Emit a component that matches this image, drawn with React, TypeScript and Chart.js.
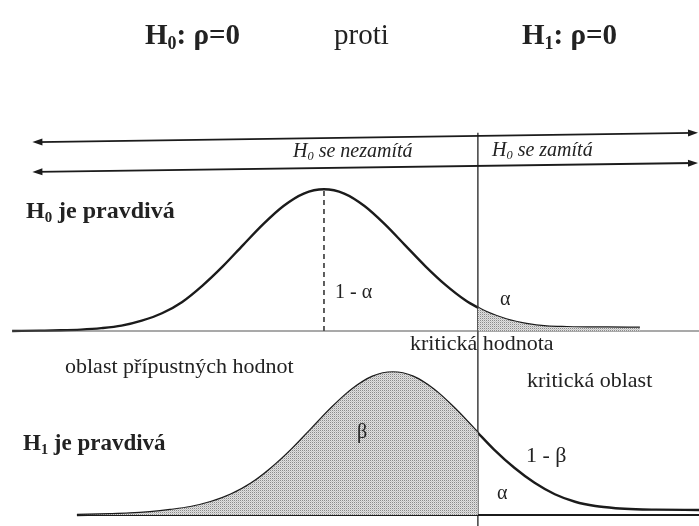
import React, { useEffect, useRef } from "react";
import { Chart, registerables } from "chart.js";

Chart.register(...registerables);

// Test statistic (in units of σ) and the densities
const h0X = [-3.85, -3.5, -3.25, -3, -2.75, -2.5, -2.25, -2, -1.75, -1.5, -1.25, -1, -0.75, -0.5, -0.25, 0, 0.25, 0.5, 0.75, 1, 1.25, 1.5, 1.75, 1.9, 2, 2.25, 2.5, 2.75, 3, 3.25, 3.5, 3.9];
const h0Density = [0, 0.001, 0.002, 0.004, 0.008, 0.015, 0.029, 0.05, 0.082, 0.128, 0.182, 0.242, 0.301, 0.352, 0.387, 0.399, 0.387, 0.352, 0.301, 0.242, 0.183, 0.13, 0.086, 0.066, 0.054, 0.033, 0.02, 0.013, 0.011, 0.01, 0.01, 0.009];

const h1X = [-3.05, -2.65, -2.4, -2.15, -1.9, -1.65, -1.4, -1.15, -0.9, -0.65, -0.4, -0.15, 0.1, 0.35, 0.6, 0.85, 1.1, 1.35, 1.6, 1.85, 1.9, 2.1, 2.35, 2.6, 2.85, 3.1, 3.35, 3.6, 3.85, 4.1, 4.63];
const h1Density = [0, 0.002, 0.004, 0.008, 0.014, 0.022, 0.036, 0.057, 0.088, 0.131, 0.183, 0.242, 0.301, 0.352, 0.387, 0.399, 0.387, 0.352, 0.301, 0.242, 0.23, 0.183, 0.132, 0.09, 0.058, 0.037, 0.025, 0.019, 0.016, 0.015, 0.014];

const criticalValue = 1.9;
const h0Mean = 0;
const h1Mean = 0.85;
const peakDensity = 0.399;
const h0AxisFrom = -3.85;
const h1AxisFrom = -3.05;
const arrowFrom = -3.6;
const arrowLevels = [
  [0.532, 0.558],
  [0.448, 0.473],
];
const critLineTop = 0.558;

const INK = "#1b1b1b";
const TEXT = "#222222";
const FAMILY = '"Liberation Serif", "Times New Roman", Times, serif';

type Part = [string, boolean?];
type Label = { parts: Part[]; x: number; y: number; size: number; weight?: string; style?: string };

const labels: Label[] = [
  { parts: [["H"], ["0", true], [": ρ=0"]], x: 145, y: 44, size: 29, weight: "bold" },
  { parts: [["proti"]], x: 334, y: 44, size: 29 },
  { parts: [["H"], ["1", true], [": ρ=0"]], x: 522, y: 44, size: 29, weight: "bold" },
  { parts: [["H"], ["0", true], [" se nezamítá"]], x: 293, y: 157, size: 20, style: "italic" },
  { parts: [["H"], ["0", true], [" se zamítá"]], x: 492, y: 156, size: 20, style: "italic" },
  { parts: [["H"], ["0", true], [" je pravdivá"]], x: 26, y: 218, size: 24, weight: "bold" },
  { parts: [["1 - α"]], x: 335, y: 298, size: 20 },
  { parts: [["α"]], x: 500, y: 305, size: 20 },
  { parts: [["kritická hodnota"]], x: 410, y: 350, size: 22 },
  { parts: [["oblast přípustných hodnot"]], x: 65, y: 373, size: 22 },
  { parts: [["kritická oblast"]], x: 527, y: 387, size: 22 },
  { parts: [["β"]], x: 357, y: 438, size: 20 },
  { parts: [["H"], ["1", true], [" je pravdivá"]], x: 23, y: 450, size: 23, weight: "bold" },
  { parts: [["1 - β"]], x: 526, y: 462, size: 22 },
  { parts: [["α"]], x: 497, y: 499, size: 20 },
];

function drawLabel(ctx: CanvasRenderingContext2D, l: Label) {
  let cx = l.x;
  for (const [t, sub] of l.parts) {
    const s = sub ? l.size * 0.62 : l.size;
    ctx.font = `${l.style || "normal"} ${l.weight || "normal"} ${s}px ${FAMILY}`;
    ctx.fillText(t, cx, sub ? l.y + l.size * 0.16 : l.y);
    cx += ctx.measureText(t).width;
  }
}

function arrowHead(ctx: CanvasRenderingContext2D, tx: number, ty: number, ang: number) {
  const len = 10, hw = 3.5;
  const c = Math.cos(ang), s = Math.sin(ang);
  ctx.beginPath();
  ctx.moveTo(tx, ty);
  ctx.lineTo(tx - len * c - hw * s, ty - len * s + hw * c);
  ctx.lineTo(tx - len * c + hw * s, ty - len * s - hw * c);
  ctx.closePath();
  ctx.fill();
}

const annotate = {
  id: "annotate",
  afterDatasetsDraw(chart: any) {
    const ctx: CanvasRenderingContext2D = chart.ctx;
    const x = chart.scales.x;
    const yt = chart.scales.yTop;
    ctx.save();
    ctx.strokeStyle = INK;
    ctx.fillStyle = INK;
    ctx.lineWidth = 1.8;
    for (const [l, r] of arrowLevels) {
      const x1 = x.getPixelForValue(arrowFrom);
      const x2 = chart.chartArea.right - 1;
      const y1 = yt.getPixelForValue(l);
      const y2 = yt.getPixelForValue(r);
      ctx.beginPath();
      ctx.moveTo(x1 + 4, y1);
      ctx.lineTo(x2 - 4, y2);
      ctx.stroke();
      const ang = Math.atan2(y2 - y1, x2 - x1);
      arrowHead(ctx, x1, y1, ang + Math.PI);
      arrowHead(ctx, x2, y2, ang);
    }
    ctx.fillStyle = TEXT;
    ctx.textBaseline = "alphabetic";
    ctx.textAlign = "left";
    for (const l of labels) drawLabel(ctx, l);
    ctx.restore();
  },
};

function makePattern(): CanvasPattern | string {
  const c = document.createElement("canvas");
  c.width = 2;
  c.height = 2;
  const g = c.getContext("2d");
  if (!g) return "#c6c6c6";
  g.fillStyle = "#e0e0e0";
  g.fillRect(0, 0, 2, 2);
  g.fillStyle = "#8a8a8a";
  g.fillRect(0, 0, 1, 1);
  g.fillStyle = "#c4c4c4";
  g.fillRect(1, 1, 1, 1);
  return g.createPattern(c, "repeat") || "#c6c6c6";
}

export default function App() {
  const ref = useRef<HTMLCanvasElement | null>(null);
  useEffect(() => {
    if (!ref.current) return;
    const pattern = makePattern();
    const h0Pts = h0X.map((v, i) => ({ x: v, y: h0Density[i] }));
    const h1Pts = h1X.map((v, i) => ({ x: v, y: h1Density[i] }));
    const h0Tail = h0Pts.filter((p) => p.x >= criticalValue);
    const h1Body = h1Pts.filter((p) => p.x <= criticalValue);
    const yTopMin = -0.549;
    const line = (data: any[], yAxisID: string, extra: any = {}) => ({
      data,
      yAxisID,
      borderColor: INK,
      borderWidth: 1.5,
      pointRadius: 0,
      fill: false,
      tension: 0,
      ...extra,
    });
    const chart = new Chart(ref.current, {
      type: "line",
      data: {
        datasets: [
          line(h0Tail, "yTop", { borderWidth: 0, fill: "origin", backgroundColor: pattern, cubicInterpolationMode: "monotone" }),
          line(h1Body, "yBot", { borderWidth: 0, fill: "origin", backgroundColor: pattern, cubicInterpolationMode: "monotone" }),
          line([{ x: h0AxisFrom, y: 0 }, { x: 4.63, y: 0 }], "yTop", { borderWidth: 1.2, borderColor: "#555" }),
          line([{ x: h1AxisFrom, y: 0 }, { x: 4.63, y: 0 }], "yBot", { borderWidth: 2.2 }),
          line([{ x: h0Mean, y: 0 }, { x: h0Mean, y: peakDensity }], "yTop", { borderDash: [5, 4], borderWidth: 1.4 }),
          line([{ x: h1Mean, y: 0 }, { x: h1Mean, y: peakDensity }], "yBot", { borderDash: [5, 4], borderWidth: 1.4 }),
          line([{ x: criticalValue, y: critLineTop }, { x: criticalValue, y: yTopMin }], "yTop", { borderWidth: 1.4, borderColor: "#333" }),
          line(h0Pts, "yTop", { borderWidth: 2.4, cubicInterpolationMode: "monotone" }),
          line(h1Pts, "yBot", { borderWidth: 2.4, cubicInterpolationMode: "monotone" }),
        ],
      },
      options: {
        animation: false,
        responsive: true,
        maintainAspectRatio: false,
        events: [],
        layout: { padding: 0 },
        plugins: { legend: { display: false }, tooltip: { enabled: false }, title: { display: false } },
        scales: {
          x: { type: "linear", min: -4, max: 4.63, display: false },
          yTop: { type: "linear", min: yTopMin, max: 0.932, display: false },
          yBot: { type: "linear", min: -0.0308, max: 1.4406, display: false },
        },
      },
      plugins: [annotate],
    } as any);
    return () => chart.destroy();
  }, []);
  return (
    <div style={{ position: "absolute", left: 0, top: 0, width: 699, height: 526, background: "#fff" }}>
      <canvas ref={ref} />
    </div>
  );
}
